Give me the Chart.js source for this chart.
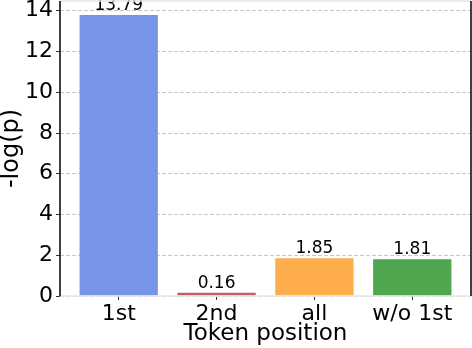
<!DOCTYPE html>
<html>
<head>
<meta charset="utf-8">
<script src="https://cdn.jsdelivr.net/npm/chart.js@4.4.0/dist/chart.umd.min.js"></script>
<style>
  html, body { margin: 0; padding: 0; background: #fff; }
  #wrap { width: 472px; height: 348px; }
</style>
</head>
<body>
<div id="wrap"><canvas id="chart" width="472" height="348"></canvas></div>
<script>
// data
const positions = ["1st", "2nd", "all", "w/o 1st"];
const negLogP = [13.79, 0.16, 1.85, 1.81];
const barColors = ["#7894e8", "#c85c5c", "#fdad4b", "#4ea64e"];
const yTicks = [0, 2, 4, 6, 8, 10, 12, 14];

const FONT = "'DejaVu Sans', sans-serif";

// frame: black left/right spines, light grey top/bottom
const framePlugin = {
  id: "frame",
  afterDraw(chart) {
    const {ctx, chartArea: a} = chart;
    ctx.save();
    ctx.lineWidth = 1.5;
    ctx.strokeStyle = "#e6e6e6";
    ctx.beginPath();
    ctx.moveTo(a.left, a.top); ctx.lineTo(a.right, a.top);
    ctx.moveTo(a.left, a.bottom); ctx.lineTo(a.right, a.bottom);
    ctx.stroke();
    ctx.strokeStyle = "#000";
    ctx.beginPath();
    ctx.moveTo(a.left, a.top); ctx.lineTo(a.left, a.bottom);
    ctx.moveTo(a.right, a.top); ctx.lineTo(a.right, a.bottom);
    ctx.stroke();
    ctx.restore();
  }
};

// value labels above bars
const valueLabels = {
  id: "valueLabels",
  afterDatasetsDraw(chart) {
    const {ctx} = chart;
    const meta = chart.getDatasetMeta(0);
    ctx.save();
    ctx.font = "17px " + FONT;
    ctx.fillStyle = "#000";
    ctx.textAlign = "center";
    ctx.textBaseline = "bottom";
    meta.data.forEach((bar, i) => {
      ctx.fillText(negLogP[i].toFixed(2), bar.x, bar.y - 1);
    });
    ctx.restore();
  }
};

new Chart(document.getElementById("chart"), {
  type: "bar",
  data: {
    datasets: [{
      data: negLogP.map((v, i) => ({x: i, y: v})),
      backgroundColor: barColors,
      borderWidth: 0,
      barPercentage: 0.8,
      categoryPercentage: 1.0,
    }],
  },
  options: {
    responsive: false,
    animation: false,
    layout: { padding: { top: 1, right: 1, left: 0, bottom: 0 } },
    plugins: { legend: { display: false }, tooltip: { enabled: false } },
    scales: {
      x: {
        type: "linear",
        offset: false,
        min: -0.6,
        max: 3.6,
        afterBuildTicks: (s) => { s.ticks = positions.map((_, i) => ({value: i})); },
        afterFit: (s) => { s.height = 52; s.paddingLeft = 0; s.paddingRight = 0; },
        ticks: {
          callback: (v) => positions[v],
          color: "#000",
          font: { family: FONT, size: 22 },
          padding: 1,
          maxRotation: 0,
          autoSkip: false,
        },
        grid: { drawOnChartArea: false, drawTicks: true, tickLength: 4, tickColor: "#333", offset: false },
        border: { display: false },
        title: {
          display: true,
          text: "Token position",
          color: "#000",
          font: { family: FONT, size: 23, lineHeight: 1.2 },
          padding: { top: 0, bottom: 0 },
        },
      },
      y: {
        min: 0,
        max: 14.48,
        afterBuildTicks: (s) => { s.ticks = yTicks.map((v) => ({value: v})); },
        afterFit: (s) => { s.width = 60; s.paddingTop = 0; s.paddingBottom = 0; },
        ticks: {
          color: "#000",
          font: { family: FONT, size: 22 },
          padding: 3,
        },
        grid: {
          color: "#c8c8c8",
          lineWidth: 1,
          tickLength: 4,
          tickColor: "#333",
        },
        border: { display: false, dash: [4, 2] },
        title: {
          display: true,
          text: "-log(p)",
          color: "#000",
          font: { family: FONT, size: 24, lineHeight: 1.0 },
          padding: { top: 0, bottom: 0 },
        },
      },
    },
  },
  plugins: [valueLabels, framePlugin],
});
</script>
</body>
</html>
